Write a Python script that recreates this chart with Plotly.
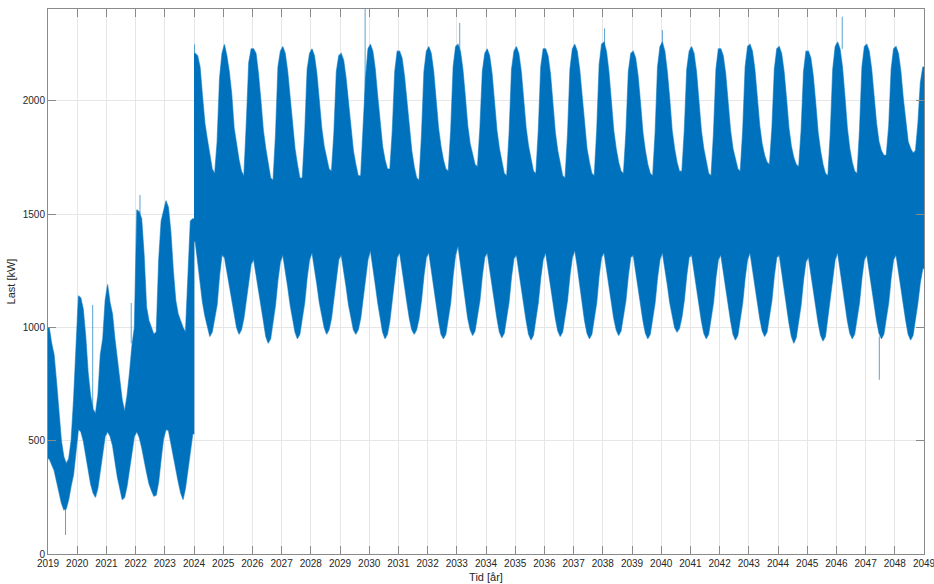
import plotly.graph_objects as go

# ---------------- data ----------------
# Monthly envelopes of the hourly load [kW]; one row per year, Jan..Dec
years = list(range(2019, 2049))
months = list(range(12))

upper_kw = [
    [1000, 930, 880, 760, 620, 500, 430, 400, 420, 500, 680, 900],      # 2019
    [1140, 1130, 1080, 960, 800, 700, 640, 620, 700, 880, 950, 1120],   # 2020
    [1190, 1110, 1060, 950, 850, 760, 680, 630, 700, 800, 920, 1000],   # 2021
    [1520, 1510, 1480, 1320, 1090, 1030, 1000, 970, 980, 1300, 1470, 1520],  # 2022
    [1560, 1530, 1420, 1250, 1120, 1060, 1030, 1000, 980, 1200, 1470, 1480],  # 2023
    [2210, 2200, 2150, 2020, 1900, 1830, 1760, 1700, 1680, 1820, 2100, 2210],  # 2024
    [2250, 2200, 2130, 2030, 1880, 1800, 1740, 1690, 1670, 1900, 2170, 2230],  # 2025
    [2230, 2210, 2120, 2000, 1870, 1790, 1720, 1660, 1650, 1850, 2150, 2220],  # 2026
    [2240, 2210, 2130, 2010, 1880, 1790, 1720, 1660, 1660, 1860, 2140, 2210],  # 2027
    [2230, 2200, 2120, 2000, 1880, 1800, 1750, 1700, 1690, 1860, 2130, 2200],  # 2028
    [2210, 2180, 2100, 1990, 1860, 1780, 1720, 1670, 1670, 1860, 2100, 2230],  # 2029
    [2250, 2220, 2140, 2020, 1890, 1800, 1740, 1700, 1700, 1870, 2130, 2220],  # 2030
    [2220, 2190, 2110, 2000, 1870, 1780, 1710, 1660, 1650, 1850, 2130, 2220],  # 2031
    [2240, 2210, 2130, 2010, 1880, 1800, 1740, 1700, 1690, 1870, 2150, 2240],  # 2032
    [2250, 2220, 2140, 2020, 1890, 1810, 1760, 1720, 1710, 1880, 2130, 2210],  # 2033
    [2230, 2200, 2120, 2000, 1870, 1790, 1730, 1680, 1670, 1860, 2140, 2220],  # 2034
    [2240, 2210, 2130, 2010, 1880, 1800, 1740, 1690, 1680, 1870, 2150, 2230],  # 2035
    [2230, 2200, 2120, 1990, 1860, 1780, 1720, 1670, 1660, 1850, 2140, 2230],  # 2036
    [2250, 2220, 2140, 2010, 1880, 1790, 1730, 1680, 1670, 1870, 2160, 2250],  # 2037
    [2260, 2220, 2130, 2000, 1870, 1790, 1730, 1690, 1680, 1860, 2130, 2210],  # 2038
    [2220, 2190, 2110, 1990, 1860, 1780, 1720, 1680, 1670, 1860, 2150, 2240],  # 2039
    [2260, 2220, 2130, 2010, 1870, 1790, 1730, 1690, 1690, 1870, 2140, 2220],  # 2040
    [2240, 2210, 2130, 2000, 1870, 1790, 1730, 1680, 1670, 1860, 2140, 2230],  # 2041
    [2230, 2200, 2120, 2000, 1870, 1790, 1740, 1700, 1690, 1870, 2150, 2240],  # 2042
    [2250, 2220, 2140, 2020, 1890, 1810, 1760, 1730, 1720, 1880, 2140, 2230],  # 2043
    [2240, 2210, 2130, 2010, 1880, 1800, 1750, 1720, 1710, 1870, 2130, 2220],  # 2044
    [2220, 2190, 2110, 1990, 1860, 1780, 1720, 1680, 1670, 1860, 2140, 2240],  # 2045
    [2260, 2230, 2150, 2020, 1880, 1790, 1730, 1690, 1680, 1870, 2150, 2240],  # 2046
    [2250, 2220, 2140, 2020, 1900, 1820, 1780, 1760, 1760, 1890, 2140, 2230],  # 2047
    [2240, 2210, 2130, 2010, 1900, 1820, 1790, 1770, 1780, 1900, 2080, 2150],  # 2048
]

lower_kw = [
    [420, 395, 370, 320, 270, 225, 195, 200, 240, 300, 350, 450],       # 2019
    [550, 540, 500, 440, 370, 310, 270, 250, 290, 360, 450, 520],       # 2020
    [540, 520, 480, 410, 340, 290, 240, 250, 300, 360, 450, 520],       # 2021
    [540, 515, 470, 420, 360, 310, 280, 255, 260, 320, 420, 510],       # 2022
    [550, 545, 500, 440, 380, 320, 270, 240, 290, 360, 450, 530],       # 2023
    [1380, 1300, 1200, 1110, 1050, 1000, 960, 980, 1030, 1100, 1230, 1320],  # 2024
    [1310, 1250, 1190, 1120, 1060, 1000, 970, 990, 1040, 1110, 1200, 1280],  # 2025
    [1300, 1240, 1180, 1100, 1030, 960, 930, 950, 1020, 1100, 1210, 1290],   # 2026
    [1320, 1250, 1180, 1100, 1040, 980, 950, 970, 1030, 1110, 1220, 1300],   # 2027
    [1330, 1260, 1190, 1110, 1050, 1000, 970, 990, 1040, 1120, 1220, 1300],  # 2028
    [1320, 1250, 1180, 1100, 1040, 990, 970, 990, 1040, 1110, 1210, 1300],   # 2029
    [1340, 1270, 1190, 1110, 1040, 980, 950, 970, 1030, 1110, 1220, 1310],   # 2030
    [1330, 1260, 1190, 1110, 1040, 990, 970, 990, 1040, 1120, 1230, 1310],   # 2031
    [1330, 1260, 1190, 1100, 1030, 970, 950, 970, 1030, 1110, 1230, 1320],   # 2032
    [1360, 1280, 1200, 1110, 1040, 990, 965, 985, 1040, 1120, 1230, 1310],   # 2033
    [1330, 1260, 1190, 1110, 1040, 980, 955, 975, 1035, 1115, 1225, 1305],   # 2034
    [1320, 1250, 1180, 1100, 1030, 970, 945, 965, 1030, 1110, 1220, 1300],   # 2035
    [1330, 1260, 1190, 1110, 1040, 985, 960, 980, 1040, 1120, 1230, 1310],   # 2036
    [1340, 1270, 1190, 1100, 1030, 975, 950, 970, 1030, 1110, 1230, 1310],   # 2037
    [1330, 1260, 1190, 1110, 1040, 990, 965, 985, 1040, 1120, 1230, 1310],   # 2038
    [1320, 1250, 1180, 1100, 1030, 975, 950, 970, 1030, 1110, 1220, 1300],   # 2039
    [1330, 1260, 1190, 1110, 1050, 1000, 980, 995, 1045, 1120, 1230, 1310],  # 2040
    [1320, 1250, 1180, 1100, 1030, 975, 950, 970, 1030, 1110, 1220, 1300],   # 2041
    [1320, 1250, 1180, 1100, 1030, 970, 945, 965, 1030, 1110, 1220, 1300],   # 2042
    [1330, 1260, 1190, 1110, 1040, 985, 960, 980, 1040, 1120, 1230, 1310],   # 2043
    [1320, 1250, 1180, 1090, 1020, 960, 930, 955, 1020, 1100, 1210, 1290],   # 2044
    [1310, 1240, 1170, 1090, 1020, 965, 940, 960, 1025, 1105, 1215, 1300],   # 2045
    [1330, 1260, 1180, 1100, 1030, 975, 950, 970, 1030, 1110, 1220, 1300],   # 2046
    [1320, 1250, 1180, 1100, 1030, 975, 950, 970, 1030, 1110, 1220, 1300],   # 2047
    [1320, 1250, 1180, 1100, 1030, 970, 945, 965, 1030, 1110, 1200, 1260],   # 2048
]

# isolated single-hour spikes: time [year], envelope value, spike value [kW]
spike_time = [2019.60, 2020.53, 2021.85, 2022.15, 2024.02, 2029.86, 2033.10, 2038.06, 2040.04, 2046.20, 2047.47]
spike_base = [200, 640, 930, 1500, 2200, 2000, 2230, 2230, 2240, 2230, 960]
spike_tip = [84, 1100, 1108, 1585, 2250, 2406, 2345, 2320, 2313, 2372, 769]

x_ticks = list(range(2019, 2050))
y_ticks = [0, 500, 1000, 1500, 2000]

# ---------------- build ----------------
BLUE = "#0072BD"


def segment(y0, y1):
    t, up, lo = [], [], []
    for yi in range(y0 - years[0], y1 - years[0]):
        for m in months:
            t.append(years[yi] + (m + 0.5) / 12.0)
            up.append(upper_kw[yi][m])
            lo.append(lower_kw[yi][m])
    # extend the band to the segment edges
    t = [float(y0)] + t + [float(y1)]
    up = [up[0]] + up + [up[-1]]
    lo = [lo[0]] + lo + [lo[-1]]
    return t, up, lo


fig = go.Figure()
for a, b in [(2019, 2024), (2024, 2049)]:
    t, up, lo = segment(a, b)
    fig.add_trace(go.Scatter(
        x=t + t[::-1], y=up + lo[::-1], mode="lines", fill="toself",
        fillcolor=BLUE, line=dict(color="rgba(0,114,189,0.55)", width=1.2),
        hoverinfo="skip", showlegend=False))

sx, sy = [], []
for t, b, p in zip(spike_time, spike_base, spike_tip):
    sx += [t, t, None]
    sy += [b, p, None]
fig.add_trace(go.Scatter(x=sx, y=sy, mode="lines",
                         line=dict(color="rgba(0,114,189,0.65)", width=1),
                         hoverinfo="skip", showlegend=False))

axis_common = dict(
    showline=True, linecolor="#8a8a8a", linewidth=1, mirror="ticks",
    ticks="inside", ticklen=8, tickcolor="#8a8a8a", tickwidth=1,
    showgrid=True, gridcolor="#e6e6e6", gridwidth=1, zeroline=False,
    ticklabeloverflow="allow",
    tickfont=dict(family="Liberation Sans, Arial, sans-serif", size=10, color="#262626"),
)

fig.update_layout(
    width=934, height=584,
    margin=dict(l=48, r=10, t=9, b=30),
    paper_bgcolor="white", plot_bgcolor="white",
    xaxis=dict(range=[2019, 2049], tickmode="array", tickvals=x_ticks,
               ticktext=[str(v) for v in x_ticks],
               title=dict(text="Tid [år]", standoff=5,
                          font=dict(family="Liberation Sans, Arial, sans-serif", size=11, color="#262626")),
               automargin=False, **axis_common),
    yaxis=dict(range=[0, 2406], tickmode="array", tickvals=y_ticks,
               ticktext=[str(v) for v in y_ticks],
               title=dict(text="Last [kW]", standoff=4,
                          font=dict(family="Liberation Sans, Arial, sans-serif", size=11, color="#262626")),
               automargin=False, **axis_common),
)

fig.write_html("out.html")
